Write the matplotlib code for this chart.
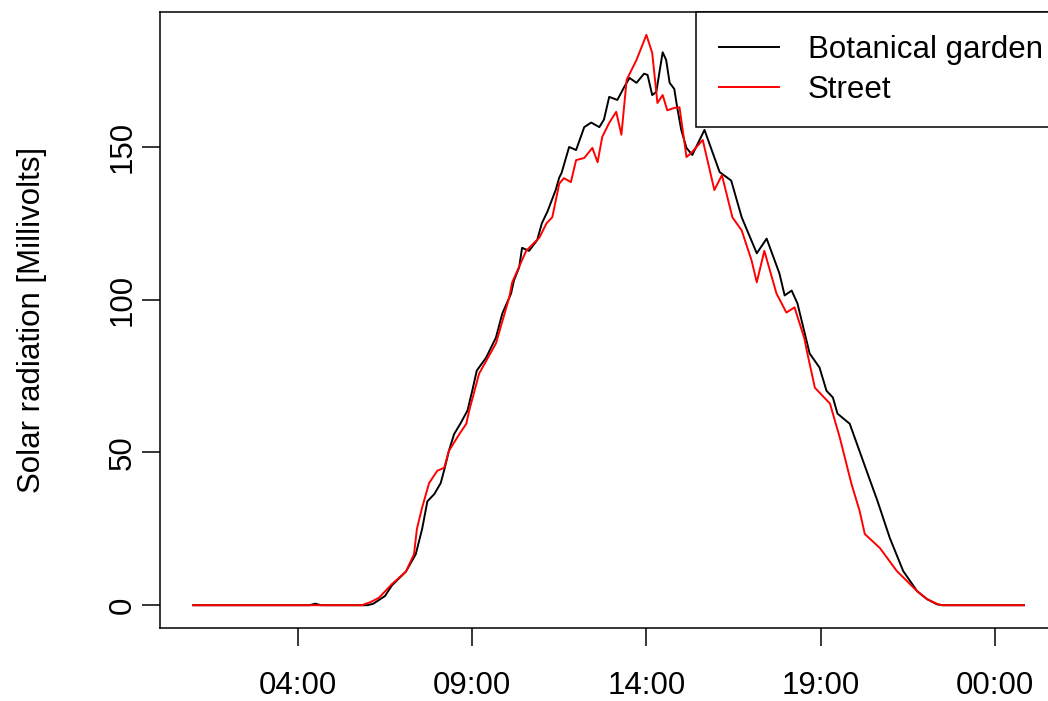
import matplotlib
matplotlib.use("Agg")
import matplotlib.pyplot as plt

plt.rcParams['font.family'] = ['Liberation Sans', 'DejaVu Sans']

# readings, time of day (next day past midnight as 24:xx)
garden_times = ["01:00", "04:20", "04:30", "04:40", "06:00", "06:10", "06:30", "06:42", "07:06",
                "07:23", "07:34", "07:43", "07:55", "08:06", "08:13", "08:20", "08:29", "08:40",
                "08:52", "09:00", "09:08", "09:24", "09:41", "09:52", "10:07", "10:12", "10:21",
                "10:26", "10:38", "10:52", "11:00", "11:10", "11:24", "11:30", "11:34", "11:47",
                "11:59", "12:13", "12:25", "12:39", "12:47", "12:56", "13:10", "13:22", "13:31",
                "13:43", "13:56", "14:02", "14:10", "14:17", "14:28", "14:34", "14:40", "14:48",
                "14:53", "15:00", "15:09", "15:19", "15:40", "16:06", "16:26", "16:44", "17:10",
                "17:27", "17:49", "17:58", "18:10", "18:20", "18:41", "18:58", "19:10", "19:21",
                "19:29", "19:50", "20:19", "20:38", "20:59", "21:22", "21:46", "22:03", "22:20",
                "22:30", "24:50"]
garden_mv = [0, 0, 0.5, 0, 0, 0.5, 3, 6.5, 11,
             16.7, 25, 34, 36.4, 40, 45, 50.5, 56, 59.5,
             63.7, 70, 76.8, 81, 87.6, 95.5, 102, 106.3, 110.6,
             117, 116, 119.5, 125, 129, 136, 140, 141.5, 150,
             149, 156.5, 158, 156.5, 159, 166.4, 165.4, 169.7, 172.6,
             171, 174, 173.6, 167, 168, 181, 178.5, 171, 169,
             163, 155.6, 149.7, 147.4, 155.6, 141.8, 139, 127, 115.2,
             120, 108.6, 101.4, 103, 98.8, 82.4, 77.8, 70.2, 68,
             62.7, 59.4, 44, 34, 22, 11.2, 4.6, 2, 0.3,
             0, 0]

street_times = ["01:00", "05:50", "06:05", "06:20", "06:42", "07:06", "07:20", "07:25", "07:34",
                "07:46", "08:00", "08:12", "08:20", "08:38", "08:50", "08:55", "09:12", "09:41",
                "10:04", "10:09", "10:33", "10:56", "11:08", "11:18", "11:30", "11:38", "11:50",
                "11:59", "12:13", "12:27", "12:36", "12:44", "12:56", "13:08", "13:17", "13:26",
                "13:43", "14:00", "14:10", "14:19", "14:28", "14:36", "14:48", "14:57", "15:09",
                "15:17", "15:37", "15:57", "16:10", "16:28", "16:44", "17:01", "17:10", "17:23",
                "17:44", "18:01", "18:15", "18:32", "18:36", "18:50", "19:16", "19:33", "19:53",
                "20:07", "20:16", "20:42", "21:11", "21:46", "22:03", "22:22", "22:30", "24:50"]
street_mv = [0, 0, 1, 2.5, 6.9, 11, 16.7, 25, 32,
             40, 44, 45, 50.5, 56, 59.4, 63.7, 75.8, 85.7,
             100.8, 105.7, 116, 120.4, 125, 127, 138, 139.8, 138.5,
             145.7, 146.4, 149.7, 145, 153.3, 157.9, 161.5, 154, 172,
             178.5, 186.7, 180.8, 164.4, 167, 162, 162.8, 163, 146.7,
             148, 152.3, 135.9, 140.8, 127, 122.7, 112.9, 105.7, 116,
             102, 95.8, 97.5, 87.3, 83.4, 71.2, 66, 54.8, 39.7,
             30.9, 23.3, 18.7, 11.2, 4.6, 2, 0.3, 0, 0]

tick_hours = [4, 9, 14, 19, 24]
tick_labels = ["04:00", "09:00", "14:00", "19:00", "00:00"]
y_ticks = [0, 50, 100, 150]


def to_hours(t):
    hh, mm = t.split(":")
    return int(hh) + int(mm) / 60


gx = [to_hours(t) for t in garden_times]
sx = [to_hours(t) for t in street_times]

fig = plt.figure(figsize=(10.48, 7.01), dpi=100)
# axes runs past the right edge like the original
ax = fig.add_axes([0.1527, 0.1041, 0.856, 0.8787])

ax.plot(gx, garden_mv, color='black', lw=1.4, label='Botanical garden')
ax.plot(sx, street_mv, color='#ff0000', lw=1.4, label='Street')

# R style 4% padding
xmin, xmax = 1.0, 24.83
ymax = 186.7
ax.set_xlim(xmin - 0.04 * (xmax - xmin), xmax + 0.04 * (xmax - xmin))
ax.set_ylim(-0.04 * ymax, ymax * 1.04)

ax.set_xticks(tick_hours)
ax.set_xticklabels(tick_labels)
ax.set_yticks(y_ticks)
ax.set_yticklabels([str(v) for v in y_ticks], rotation=90, va='center')
ax.tick_params(axis='both', direction='out', length=13, width=1.1, labelsize=22.5)
ax.tick_params(axis='x', pad=18)
ax.tick_params(axis='y', pad=3)
for s in ax.spines.values():
    s.set_linewidth(1.1)

ax.set_ylabel('Solar radiation [Millivolts]', fontsize=22.5, labelpad=44)

leg = ax.legend(loc='upper right', bbox_to_anchor=(1.0089, 1), borderaxespad=0, fontsize=22.5,
                fancybox=False, framealpha=1, edgecolor='black', handlelength=1.95,
                handletextpad=0.9, borderpad=0.72, labelspacing=0.32)
leg.get_frame().set_linewidth(1.1)

fig.savefig('out.png', dpi=100)
